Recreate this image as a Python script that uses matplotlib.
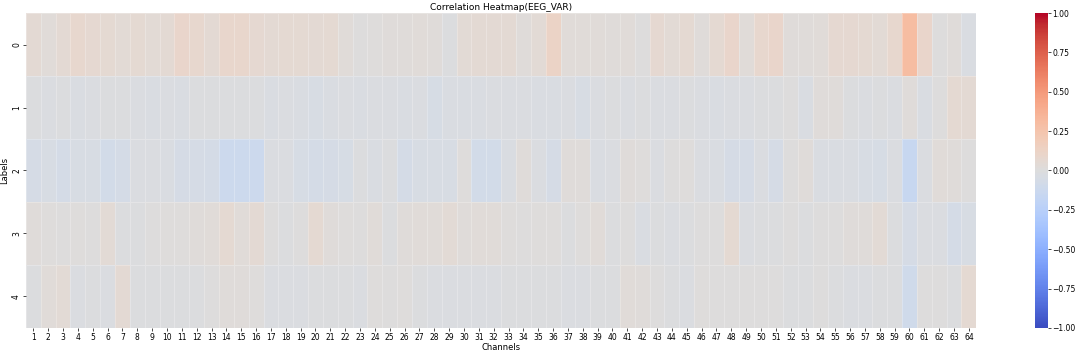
import numpy as np
import matplotlib
matplotlib.use("Agg")
import matplotlib.pyplot as plt
import seaborn as sns

channels = [str(i) for i in range(1, 65)]
labels = ["0", "1", "2", "3", "4"]

row0 = [0.05, 0.03, 0.05, 0.08, 0.07, 0.06, 0.04, 0.06, 0.04, 0.05, 0.10, 0.08, 0.05, 0.09, 0.09, 0.07,
        0.05, 0.06, 0.06, 0.05, 0.06, 0.03, 0.00, 0.01, 0.02, 0.02, 0.03, 0.02, -0.01, 0.04, 0.05, 0.05,
        0.05, 0.02, 0.04, 0.12, 0.03, 0.03, 0.03, 0.02, 0.03, 0.00, 0.07, 0.04, 0.06, 0.02, 0.06, 0.10,
        0.03, 0.08, 0.10, 0.02, 0.02, 0.03, 0.07, 0.07, 0.06, 0.04, 0.08, 0.30, 0.10, 0.00, 0.02, -0.03]
row1 = [-0.01, -0.02, -0.01, -0.03, -0.02, -0.01, -0.01, -0.02, -0.03, -0.02, -0.03, -0.01, -0.01, -0.01, -0.01, -0.01,
        -0.03, -0.02, -0.03, -0.04, -0.03, -0.02, -0.03, -0.02, -0.02, -0.03, -0.02, -0.05, -0.03, -0.03, -0.03, -0.02,
        -0.02, -0.02, -0.03, -0.03, -0.02, -0.04, -0.02, -0.01, -0.02, -0.01, -0.02, -0.02, -0.01, -0.02, -0.03, -0.02,
        -0.02, -0.01, -0.01, 0.00, -0.03, 0.02, 0.02, -0.01, -0.02, -0.01, -0.02, 0.02, -0.03, 0.00, 0.06, 0.05]
row2 = [-0.06, -0.04, -0.07, -0.04, -0.04, -0.08, -0.07, -0.02, -0.02, -0.03, -0.06, -0.06, -0.07, -0.12, -0.12, -0.12,
        -0.02, -0.02, -0.05, -0.07, -0.06, -0.05, -0.01, -0.03, -0.01, -0.07, -0.04, -0.04, -0.04, 0.01, -0.08, -0.08,
        -0.03, 0.02, -0.02, -0.06, 0.02, 0.02, -0.03, -0.02, 0.02, 0.01, -0.02, 0.00, 0.01, -0.02, -0.03, -0.06,
        -0.06, -0.02, -0.06, 0.00, 0.02, -0.03, -0.03, -0.03, -0.04, -0.05, -0.02, -0.15, -0.02, 0.03, 0.02, 0.00]
row3 = [0.02, 0.01, 0.00, 0.01, 0.00, 0.04, -0.01, -0.01, 0.00, 0.01, 0.01, 0.02, 0.03, 0.06, 0.03, 0.05,
        0.00, -0.01, 0.00, 0.06, 0.02, 0.01, 0.00, 0.03, -0.01, 0.02, 0.03, 0.03, 0.04, 0.02, 0.03, 0.03,
        0.01, 0.00, 0.01, 0.01, -0.01, 0.01, 0.03, -0.01, 0.00, -0.03, -0.01, -0.02, -0.01, 0.00, 0.00, 0.06,
        -0.02, -0.01, -0.01, 0.00, -0.01, 0.00, 0.00, 0.02, 0.02, 0.04, -0.01, -0.06, -0.02, -0.02, -0.07, -0.04]
row4 = [-0.01, 0.03, 0.04, -0.02, -0.01, -0.02, 0.05, -0.01, -0.01, -0.01, -0.01, -0.01, 0.00, 0.02, 0.02, 0.01,
        -0.02, -0.02, -0.02, -0.01, -0.01, -0.01, -0.02, 0.01, 0.00, 0.01, -0.01, -0.02, -0.02, -0.02, -0.02, -0.02,
        -0.01, -0.01, -0.01, -0.01, -0.02, -0.02, -0.01, -0.01, 0.03, 0.02, 0.00, -0.01, -0.02, 0.01, 0.00, 0.00,
        0.00, 0.00, 0.00, -0.01, -0.01, 0.00, -0.01, -0.02, -0.02, -0.01, -0.01, -0.10, 0.00, 0.00, -0.01, 0.06]

data = np.array([row0, row1, row2, row3, row4])

fig = plt.figure(figsize=(10.8, 3.53), dpi=100)
ax = fig.add_axes([0.024, 0.071, 0.880, 0.892])
cax = fig.add_axes([0.958, 0.071, 0.012, 0.892])

sns.heatmap(data, ax=ax, cbar_ax=cax, cmap="coolwarm", vmin=-1, vmax=1,
            xticklabels=channels, yticklabels=labels,
            linewidths=0.6, linecolor=(1.0, 1.0, 1.0, 0.25))

ax.set_title("Correlation Heatmap(EEG_VAR)", fontsize=6.5, pad=2)
ax.set_xlabel("Channels", fontsize=6, labelpad=1)
ax.set_ylabel("Labels", fontsize=6, labelpad=2)
ax.tick_params(axis="both", labelsize=5.5, length=2, width=0.5, pad=1.5)
ax.set_yticklabels(labels, rotation=90, va="center")
ax.set_xticklabels(channels, rotation=0)

cax.tick_params(labelsize=5.5, length=2, width=0.5, pad=1.5)
cax.set_yticks([-1, -0.75, -0.5, -0.25, 0, 0.25, 0.5, 0.75, 1])
cax.set_yticklabels(["\u22121.00", "\u22120.75", "\u22120.50", "\u22120.25", "0.00", "0.25", "0.50", "0.75", "1.00"])

fig.savefig("out.png", dpi=100)
